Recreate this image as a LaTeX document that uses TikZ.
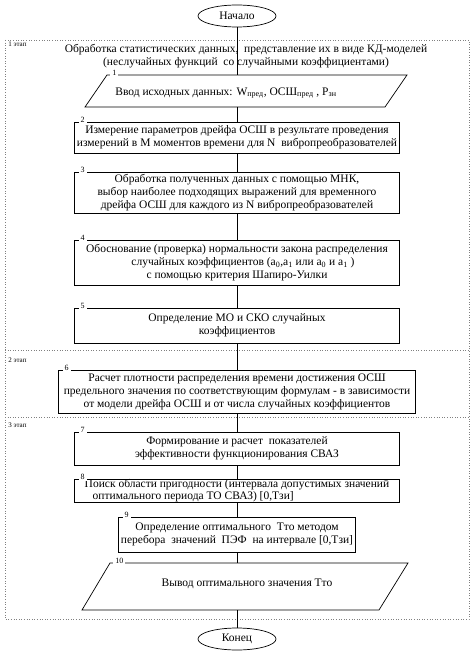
\documentclass[tikz,border=0pt]{standalone}
\usepackage{fontspec}
\setmainfont{Liberation Serif}
\usetikzlibrary{shapes.geometric}

\begin{document}
\begin{tikzpicture}[
  x=1pt, y=-1pt, line width=0.7pt,
  block/.style={rectangle,draw,align=center,inner xsep=1pt,inner ysep=0pt,font=\fontsize{11.5}{13}\selectfont},
  txt/.style={align=center,inner sep=0pt,font=\fontsize{11.5}{13}\selectfont},
  term/.style={ellipse,draw,minimum width=78pt,minimum height=22pt,inner sep=0pt,font=\fontsize{11.5}{13}\selectfont},
  num/.style={fill=white,anchor=west,inner xsep=2pt,inner ysep=1.5pt,font=\fontsize{8}{8}\selectfont},
  stage/.style={anchor=north west,inner sep=0pt,font=\fontsize{7}{8}\selectfont},
  frame/.style={gray,dotted,line width=0.6pt}
]
  \useasboundingbox (0,0) rectangle (474,660);
  % stages
  \draw[frame] (5,40) rectangle (469,619);
  \draw[frame] (5,350) -- (469,350);
  \draw[frame] (5,417) -- (469,417);
  \node[stage] (s1) at (8,42) {1 этап};
  \node[stage] (s2) at (8,358) {2 этап};
  \node[stage] (s3) at (8,423) {3 этап};

  \node[term] (start) at (237,16) {Начало};
  \node[txt] (title) at (246,56) {Обработка статистических данных,\ \ представление их в виде КД-моделей\\
    (неслучайных функций\ \ со случайными коэффициентами)};

  % input
  \coordinate (p1t) at (237,75);
  \coordinate (p1b) at (237,107);
  \draw (107,75) -- (407,75) -- (385,107) -- (85,107) -- cycle;
  \node[txt] (p1) at (226,93) {Ввод исходных данных: W\textsubscript{пред}, ОСШ\textsubscript{пред} , P\textsubscript{зн}};
  \node[num] (n1) at (110,73) {1};

  \node[block,minimum width=325pt,minimum height=31pt] (b2) at (237,137.5)
    {Измерение параметров дрейфа ОСШ в результате проведения\\
     измерений в М моментов времени для N\ \ вибропреобразователей};
  \node[block,minimum width=325pt,minimum height=41pt] (b3) at (237,192.5)
    {Обработка полученных данных с помощью МНК,\\
     выбор наиболее подходящих выражений для временного\\
     дрейфа ОСШ для каждого из N вибропреобразователей};
  \node[block,minimum width=325pt,minimum height=45pt] (b4) at (237,262.5)
    {Обоснование (проверка) нормальности закона распределения\\
     \hspace*{12pt}случайных коэффициентов (a\textsubscript{0},a\textsubscript{1} или a\textsubscript{0} и a\textsubscript{1} )\\
     с помощью критерия Шапиро-Уилки};
  \node[block,minimum width=325pt,minimum height=35pt] (b5) at (237,325.5)
    {Определение МО и СКО случайных\\ коэффициентов};
  \node[block,minimum width=357pt,minimum height=43pt] (b6) at (237,391.5)
    {Расчет плотности распределения времени достижения ОСШ\\
     предельного значения по соответствующим формулам - в зависимости\\
     от модели дрейфа ОСШ и от числа случайных коэффициентов};
  \node[block,minimum width=325pt,minimum height=33pt] (b7) at (237,448.5)
    {Формирование и расчет\ \ показателей\\ эффективности функционирования СВАЗ};
  \node[block,minimum width=325pt,minimum height=23pt,align=left,font=\fontsize{11.5}{12}\selectfont] (b8) at (237,490.5)
    {Поиск области пригодности (интервала допустимых значений\\
     \hspace*{8pt}оптимального периода ТО СВАЗ) [0,Тзи]};
  \node[block,minimum width=237pt,minimum height=35pt] (b9) at (237,534.5)
    {Определение оптимального\ \ Тто методом\\ перебора\ \ значений\ \ ПЭФ\ \ на интервале [0,Тзи]};

  % output
  \coordinate (p10t) at (237,563);
  \coordinate (p10b) at (237,610);
  \draw (110,563) -- (408,563) -- (379,610) -- (82,610) -- cycle;
  \node[txt] (p10) at (247,584) {Вывод оптимального значения Тто};
  \node[num] (n10) at (113,561) {10};

  \node[term] (finish) at (237,639) {Конец};

  % numbers
  \foreach \b in {2,...,9}
    \node[num] (n\b) at ([xshift=4pt,yshift=2pt]b\b.north west) {\b};

  % flow
  \draw (start) -- (p1t);
  \draw (p1b) -- (b2);
  \draw (b2) -- (b3);
  \draw (b3) -- (b4);
  \draw (b4) -- (b5);
  \draw (b5) -- (b6);
  \draw (b6) -- (b7);
  \draw (b7) -- (b8);
  \draw (b8) -- (b9);
  \draw (b9) -- (p10t);
  \draw (p10b) -- (finish);
\end{tikzpicture}
\end{document}
